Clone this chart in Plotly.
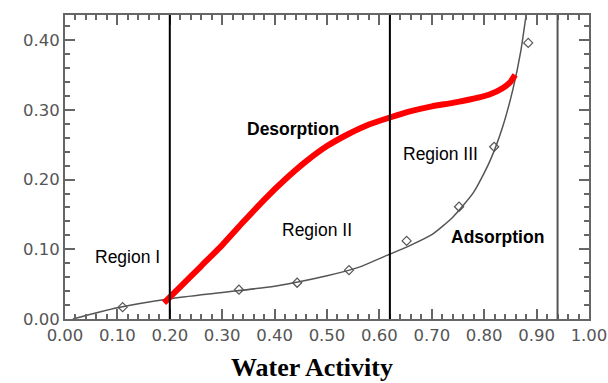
import plotly.graph_objects as go

# Adsorption isotherm (thin gray curve)
ads_x = [0.015, 0.10, 0.20, 0.30, 0.40, 0.50, 0.56, 0.62, 0.66, 0.70, 0.74, 0.78, 0.81, 0.835, 0.855, 0.87, 0.88]
ads_y = [0.000, 0.016, 0.029, 0.038, 0.047, 0.062, 0.074, 0.093, 0.106, 0.121, 0.146, 0.182, 0.225, 0.275, 0.330, 0.385, 0.436]

# Measured adsorption points (diamonds)
pts_x = [0.11, 0.332, 0.443, 0.542, 0.652, 0.752, 0.819, 0.884]
pts_y = [0.017, 0.042, 0.052, 0.070, 0.112, 0.161, 0.247, 0.396]

# Desorption curve (thick red)
des_x = [0.189, 0.22, 0.26, 0.30, 0.34, 0.38, 0.42, 0.46, 0.50, 0.54, 0.58, 0.62, 0.66, 0.70, 0.74, 0.78, 0.81, 0.835, 0.85, 0.859]
des_y = [0.023, 0.046, 0.076, 0.106, 0.139, 0.171, 0.200, 0.226, 0.248, 0.265, 0.279, 0.289, 0.298, 0.305, 0.310, 0.316, 0.322, 0.331, 0.340, 0.350]

# Region boundaries
bound_x = [0.20, 0.62, 0.94]
bound_colors = ["#000000", "#000000", "#555555"]

labels = ["Region I", "Region II", "Region III", "Desorption", "Adsorption"]
label_x = [0.12, 0.48, 0.716, 0.435, 0.826]
label_y = [0.089, 0.127, 0.236, 0.273, 0.117]
label_bold = [False, False, False, True, True]

x_title = "Water Activity"

L, R, T, B = 65, 19, 15, 64
W, H = 608, 383
pw, ph = W - L - R, H - T - B

fig = go.Figure()

for bx, bc in zip(bound_x, bound_colors):
    fig.add_shape(type="line", x0=bx, x1=bx, y0=0, y1=1, xref="x", yref="paper",
                  line=dict(color=bc, width=2), layer="above")

fig.add_trace(go.Scatter(x=ads_x, y=ads_y, mode="lines",
                         line=dict(color="#555555", width=1.5, shape="spline", smoothing=0.6),
                         showlegend=False, hoverinfo="skip"))
fig.add_trace(go.Scatter(x=pts_x, y=pts_y, mode="markers",
                         marker=dict(symbol="diamond-open", size=7, color="#555555",
                                     line=dict(width=1.2, color="#555555")),
                         showlegend=False))
fig.add_trace(go.Scatter(x=des_x, y=des_y, mode="lines",
                         line=dict(color="#ff0000", width=6, shape="spline", smoothing=0.5),
                         showlegend=False))

for t, lx, ly, b in zip(labels, label_x, label_y, label_bold):
    fig.add_annotation(x=lx, y=ly, text=f"<b>{t}</b>" if b else t, showarrow=False,
                       font=dict(family="Liberation Sans, Arial", size=17.5, color="#000000"))

fig.add_annotation(x=(312 - L) / pw, y=(H - B - 367) / ph, xref="paper", yref="paper",
                   xanchor="center", yanchor="middle", text=f"<b>{x_title}</b>",
                   showarrow=False,
                   font=dict(family="Liberation Serif, Times New Roman", size=26, color="#000"))

axis_common = dict(showline=True, linecolor="#666666", linewidth=2, mirror="ticks",
                   ticks="inside", ticklen=10, tickwidth=1.5, tickcolor="#666666",
                   showgrid=False, zeroline=False, tickformat=".2f", dtick=0.1,
                   automargin=False,
                   tickfont=dict(family="DejaVu Sans", size=16.5, color="#555555"),
                   minor=dict(ticks="inside", ticklen=5, dtick=0.02, tickcolor="#666666", tickwidth=1.5))

fig.update_xaxes(range=[0, 1], **axis_common)
fig.update_yaxes(range=[0, 0.436], **axis_common)

fig.update_layout(width=W, height=H, margin=dict(l=L, r=R, t=T, b=B),
                  plot_bgcolor="white", paper_bgcolor="white")

fig.write_html("out.html", config={"displayModeBar": False},
               post_script="document.body.style.margin='0px';document.body.style.overflow='hidden';")
